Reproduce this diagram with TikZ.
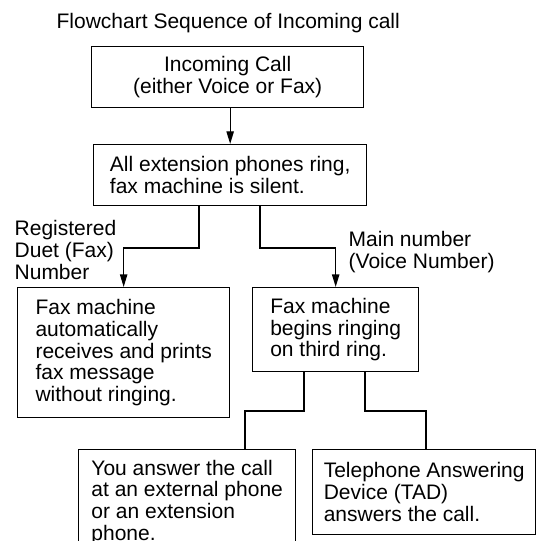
\documentclass[tikz,border=0pt]{standalone}
\usepackage{fontspec}
\setmainfont{Liberation Sans}
\usetikzlibrary{arrows.meta}

\begin{document}
\begin{tikzpicture}[x=0.75pt,y=-0.75pt,line width=1pt,
    font=\fontsize{15.75}{16.3}\selectfont,
    box/.style={draw,anchor=north west,align=left,inner sep=0pt},
    lbl/.style={anchor=north west,align=left,inner sep=0pt},
    >={Triangle[length=9.5pt,width=5.5pt]}]
    \useasboundingbox (0,0) rectangle (539,541);
    \node[lbl] (title) at (56,12.5) {Flowchart Sequence of Incoming call};
    % boxes
    \node[box,align=center,minimum width=204pt,minimum height=45.75pt] (call) at (91,46) {Incoming Call\\(either Voice or Fax)};
    \node[box,minimum width=204.75pt,minimum height=45.75pt] (ring) at (93,144) {All extension phones ring,\\fax machine is silent.};
    \node[box,minimum width=159pt,minimum height=97.5pt] (fax) at (17,287) {Fax machine\\automatically\\receives and prints\\fax message\\without ringing.};
    \node[box,minimum width=124.5pt,minimum height=63pt] (begin) at (252,287) {Fax machine\\begins ringing\\on third ring.};
    \node[box,minimum width=162.75pt,minimum height=79pt] (answer) at (78,449) {You answer the call\\at an external phone\\or an extension\\phone.};
    \node[box,minimum width=167.25pt,minimum height=63.75pt] (tad) at (312,449) {Telephone Answering\\Device (TAD)\\answers the call.};
    % branch labels
    \node[lbl] (duet) at (14,220) {Registered\\Duet (Fax)\\Number};
    \node[lbl] (main) at (348,231) {Main number\\(Voice Number)};
    % connectors
    \coordinate (jl) at (199,248);
    \coordinate (jr) at (260,248);
    \coordinate (ja) at (304,411);
    \coordinate (jt) at (365,411);
    \coordinate (ta) at (245,0);
    \coordinate (tt) at (426,0);
    \draw[->] (ring.north |- call.south) -- (ring.north);
    \draw[->] (ring.south -| jl) -- (jl) -| (fax.north);
    \draw[->] (ring.south -| jr) -- (jr) -| (begin.north);
    \draw (begin.south -| ja) -- (ja) -| (answer.north -| ta);
    \draw (begin.south -| jt) -- (jt) -| (tad.north -| tt);
  \end{tikzpicture}
\end{document}
